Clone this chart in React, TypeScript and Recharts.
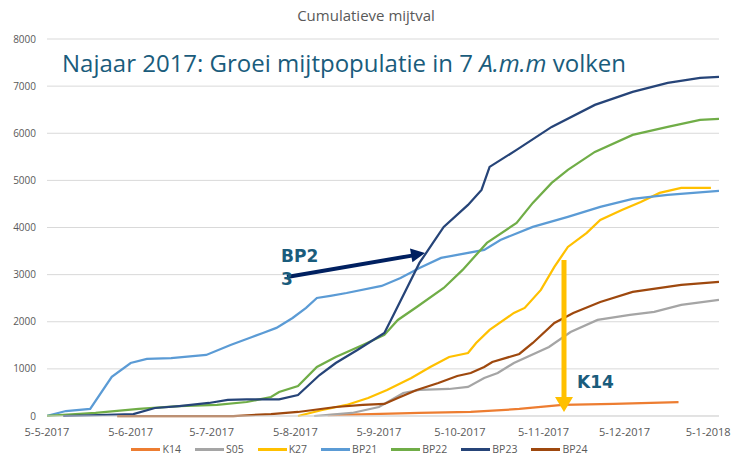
import React from "react";
import { LineChart, Line, XAxis, YAxis, CartesianGrid } from "recharts";

// cumulative mite drop per colony
const k14: [string, number][] = [
  ["2017-08-17", 20], ["2017-09-02", 42], ["2017-09-20", 64], ["2017-10-09", 85],
  ["2017-10-27", 149], ["2017-11-12", 234], ["2017-12-01", 255], ["2017-12-25", 297],
];
const s05: [string, number][] = [
  ["2017-08-12", 0], ["2017-08-26", 64], ["2017-09-05", 191], ["2017-09-14", 488],
  ["2017-09-20", 552], ["2017-10-01", 573], ["2017-10-08", 616], ["2017-10-14", 807],
  ["2017-10-19", 913], ["2017-10-25", 1125], ["2017-11-07", 1465], ["2017-11-15", 1783],
  ["2017-11-25", 2038], ["2017-12-07", 2144], ["2017-12-16", 2208], ["2017-12-26", 2357],
  ["2018-01-09", 2463],
];
const k27: [string, number][] = [
  ["2017-08-06", 0], ["2017-08-15", 127], ["2017-08-24", 234], ["2017-09-01", 382],
  ["2017-09-08", 552], ["2017-09-17", 807], ["2017-09-24", 1040], ["2017-10-01", 1252],
  ["2017-10-08", 1337], ["2017-10-11", 1550], ["2017-10-16", 1826], ["2017-10-25", 2187],
  ["2017-10-29", 2293], ["2017-11-04", 2675], ["2017-11-09", 3163], ["2017-11-14", 3588],
  ["2017-11-21", 3885], ["2017-11-26", 4161], ["2017-12-04", 4373], ["2017-12-11", 4543],
  ["2017-12-18", 4734], ["2017-12-26", 4840], ["2018-01-06", 4840],
];
const bp21: [string, number][] = [
  ["2017-05-05", 0], ["2017-05-12", 106], ["2017-05-21", 150], ["2017-05-29", 830],
  ["2017-06-05", 1125], ["2017-06-11", 1210], ["2017-06-20", 1230], ["2017-07-03", 1295],
  ["2017-07-12", 1507], ["2017-07-20", 1677], ["2017-07-24", 1762], ["2017-07-29", 1870],
  ["2017-08-04", 2080], ["2017-08-09", 2293], ["2017-08-13", 2505], ["2017-08-18", 2550],
  ["2017-08-24", 2610], ["2017-09-06", 2760], ["2017-09-13", 2930], ["2017-09-20", 3142],
  ["2017-09-28", 3354], ["2017-10-04", 3418], ["2017-10-14", 3524], ["2017-10-20", 3736],
  ["2017-11-01", 4012], ["2017-11-14", 4225], ["2017-11-26", 4437], ["2017-12-08", 4607],
  ["2017-12-21", 4692], ["2018-01-09", 4777],
];
const bp22: [string, number][] = [
  ["2017-05-05", 0], ["2017-05-23", 64], ["2017-06-08", 150], ["2017-06-23", 212],
  ["2017-07-07", 234], ["2017-07-18", 297], ["2017-07-27", 403], ["2017-07-30", 510],
  ["2017-08-06", 637], ["2017-08-13", 1040], ["2017-08-20", 1252], ["2017-08-30", 1507],
  ["2017-09-07", 1720], ["2017-09-12", 2038], ["2017-09-19", 2314], ["2017-09-29", 2717],
  ["2017-10-06", 3100], ["2017-10-15", 3673], ["2017-10-26", 4097], ["2017-11-01", 4522],
  ["2017-11-08", 4947], ["2017-11-14", 5223], ["2017-11-24", 5605], ["2017-12-08", 5966],
  ["2017-12-21", 6135], ["2018-01-02", 6284], ["2018-01-09", 6305],
];
const bp23: [string, number][] = [
  ["2017-05-11", 0], ["2017-06-06", 42], ["2017-06-14", 170], ["2017-06-23", 212],
  ["2017-07-04", 276], ["2017-07-11", 340], ["2017-07-18", 355], ["2017-07-30", 355],
  ["2017-08-06", 446], ["2017-08-14", 870], ["2017-08-20", 1125], ["2017-08-28", 1400],
  ["2017-09-07", 1762], ["2017-09-10", 2100], ["2017-09-15", 2675], ["2017-09-20", 3248],
  ["2017-09-25", 3672], ["2017-09-29", 4012], ["2017-10-08", 4479], ["2017-10-13", 4798],
  ["2017-10-16", 5286], ["2017-10-26", 5647], ["2017-11-08", 6135], ["2017-11-24", 6602],
  ["2017-12-08", 6878], ["2017-12-21", 7070], ["2018-01-02", 7175], ["2018-01-09", 7197],
];
const bp24: [string, number][] = [
  ["2017-05-31", 0], ["2017-07-13", 0], ["2017-07-27", 42], ["2017-08-06", 85],
  ["2017-08-20", 191], ["2017-08-30", 234], ["2017-09-07", 255], ["2017-09-12", 382],
  ["2017-09-19", 552], ["2017-09-27", 700], ["2017-10-04", 849], ["2017-10-09", 913],
  ["2017-10-14", 1040], ["2017-10-17", 1146], ["2017-10-27", 1316], ["2017-11-01", 1550],
  ["2017-11-09", 1974], ["2017-11-16", 2187], ["2017-11-26", 2420], ["2017-12-08", 2632],
  ["2017-12-26", 2781], ["2018-01-09", 2845],
];

const tickDates = [
  "2017-05-05", "2017-06-05", "2017-07-05", "2017-08-05", "2017-09-05",
  "2017-10-05", "2017-11-05", "2017-12-05", "2018-01-05",
];
const tickLabels = [
  "5-5-2017", "5-6-2017", "5-7-2017", "5-8-2017", "5-9-2017",
  "5-10-2017", "5-11-2017", "5-12-2017", "5-1-2018",
];
const yTicks = [0, 1000, 2000, 3000, 4000, 5000, 6000, 7000, 8000];

const START = Date.parse("2017-05-05");
const toDay = (s: string) => (Date.parse(s) - START) / 86400000;

const series = [
  { name: "K14", color: "#ED7D31", points: k14 },
  { name: "S05", color: "#A5A5A5", points: s05 },
  { name: "K27", color: "#FFC000", points: k27 },
  { name: "BP21", color: "#5B9BD5", points: bp21 },
  { name: "BP22", color: "#70AD47", points: bp22 },
  { name: "BP23", color: "#264478", points: bp23 },
  { name: "BP24", color: "#9E480E", points: bp24 },
];

const FONT = "'Open Sans', sans-serif";
const GREY = "#595959";
const TEAL = "#1A5C7C";

export default function App() {
  const tickDays = tickDates.map(toDay);
  const labelFor = (v: number) => tickLabels[tickDays.indexOf(v)] ?? "";

  return (
    <div style={{ position: "absolute", left: 0, top: 0, width: 733, height: 458, background: "#fff", fontFamily: FONT }}>
      <LineChart width={733} height={458} margin={{ top: 39, right: 14, bottom: 22, left: 0 }}>
        <CartesianGrid vertical={false} stroke="#d9d9d9" />
        <XAxis
          type="number"
          dataKey="x"
          domain={[0, toDay("2018-01-09")]}
          ticks={tickDays}
          tickFormatter={labelFor}
          tick={{ fill: GREY, fontSize: 11, fontFamily: FONT }}
          tickLine={false}
          axisLine={{ stroke: "#d9d9d9" }}
          tickMargin={6}
          height={20}
          interval={0}
          allowDataOverflow
        />
        <YAxis
          type="number"
          domain={[0, 8000]}
          ticks={yTicks}
          tick={{ fill: GREY, fontSize: 10, fontFamily: FONT }}
          tickLine={false}
          axisLine={false}
          width={47}
          tickMargin={5}
        />
        {series.map((s) => (
          <Line
            key={s.name}
            data={s.points.map(([d, v]) => ({ x: toDay(d), y: v }))}
            dataKey="y"
            name={s.name}
            stroke={s.color}
            strokeWidth={2.25}
            dot={false}
            type="linear"
            isAnimationActive={false}
          />
        ))}
      </LineChart>

      <svg width={733} height={458} style={{ position: "absolute", left: 0, top: 0, pointerEvents: "none" }}>
        <text x={366} y={21} textAnchor="middle" fontSize={15} fill={GREY} fontFamily={FONT}>
          Cumulatieve mijtval
        </text>
        <text x={62} y={72} fontSize={24} fill={TEAL} fontFamily={FONT}>
          Najaar 2017: Groei mijtpopulatie in 7 <tspan fontStyle="italic">A.m.m</tspan> volken
        </text>

        <line x1={287} y1={277} x2={412} y2={255.6} stroke="#002060" strokeWidth={4} />
        <polygon points="425,253 412.4,262.3 410.0,248.5" fill="#002060" />
        <text x={281} y={262} fontSize={17} fontWeight="bold" fill={TEAL} fontFamily="'DejaVu Sans', sans-serif">BP2</text>
        <text x={281} y={285} fontSize={17} fontWeight="bold" fill={TEAL} fontFamily="'DejaVu Sans', sans-serif">3</text>

        <line x1={564} y1={260} x2={564} y2={398} stroke="#FFC000" strokeWidth={5} />
        <polygon points="555,397 573,397 564,412" fill="#FFC000" />
        <text x={577} y={388} fontSize={17} fontWeight="bold" fill={TEAL} fontFamily="'DejaVu Sans', sans-serif">K14</text>
      </svg>

      <div
        style={{
          position: "absolute", left: 0, top: 442, width: 733, display: "flex",
          justifyContent: "center", alignItems: "center", fontSize: 10.5, color: GREY,
        }}
      >
        {series.map((s) => (
          <div key={s.name} style={{ display: "flex", alignItems: "center", marginRight: 14 }}>
            <div style={{ width: 29, height: 3, background: s.color, marginRight: 2 }} />
            <span>{s.name}</span>
          </div>
        ))}
      </div>
    </div>
  );
}
